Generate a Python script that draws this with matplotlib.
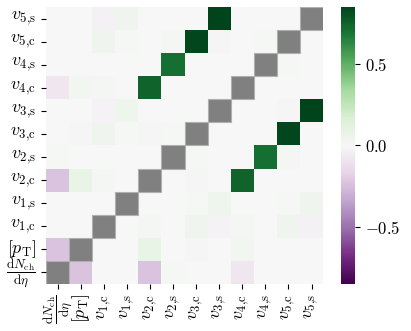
import numpy as np
import matplotlib
matplotlib.use("Agg")
import matplotlib.pyplot as plt
from matplotlib.colors import ListedColormap
from matplotlib.patches import Rectangle
import seaborn as sns

plt.rcParams["mathtext.fontset"] = "cm"
plt.rcParams["font.family"] = "serif"
plt.rcParams["font.serif"] = ["cmr10", "DejaVu Serif"]
plt.rcParams["axes.unicode_minus"] = False

labels = [r"$\dfrac{\mathrm{d}N_\mathrm{ch}}{\mathrm{d}\eta}$", r"$[p_\mathrm{T}]$",
          r"$v_{1,\!\mathrm{c}}$", r"$v_{1,\!\mathrm{s}}$",
          r"$v_{2,\!\mathrm{c}}$", r"$v_{2,\!\mathrm{s}}$",
          r"$v_{3,\!\mathrm{c}}$", r"$v_{3,\!\mathrm{s}}$",
          r"$v_{4,\!\mathrm{c}}$", r"$v_{4,\!\mathrm{s}}$",
          r"$v_{5,\!\mathrm{c}}$", r"$v_{5,\!\mathrm{s}}$"]

# upper-triangle correlations (row i, col j>i), order as in labels
row_dN = [-0.23, 0.0, 0.0, -0.23, 0.01, 0.0, 0.0, -0.08, 0.0, 0.0, 0.0]
row_pT = [0.0, 0.0, 0.08, 0.0, -0.01, 0.0, 0.03, 0.0, 0.0, 0.0]
row_v1c = [0.0, 0.02, 0.0, 0.04, -0.02, 0.02, 0.0, 0.04, -0.03]
row_v1s = [0.0, 0.0, 0.01, 0.05, 0.0, 0.0, 0.01, 0.04]
row_v2c = [0.0, -0.01, 0.0, 0.75, 0.0, 0.0, 0.0]
row_v2s = [0.01, 0.0, 0.0, 0.71, 0.02, 0.0]
row_v3c = [0.0, 0.0, 0.0, 0.84, 0.0]
row_v3s = [0.0, 0.0, -0.01, 0.85]
row_v4c = [0.0, 0.0, 0.0]
row_v4s = [0.01, 0.0]
row_v5c = [0.0]
upper_rows = [row_dN, row_pT, row_v1c, row_v1s, row_v2c, row_v2s,
              row_v3c, row_v3s, row_v4c, row_v4s, row_v5c]

n = len(labels)
corr = np.eye(n)
for i, r in enumerate(upper_rows):
    for k, v in enumerate(r):
        j = i + 1 + k
        corr[i, j] = v
        corr[j, i] = v

vmax = 0.85
fig = plt.figure(figsize=(4.11, 3.31), dpi=100)
ax = fig.add_axes([0.112, 0.142, 0.674, 0.837])
cax = fig.add_axes([0.830, 0.142, 0.034, 0.837])

diag = np.eye(n, dtype=bool)
sns.heatmap(corr, mask=diag, cmap="PRGn", vmin=-vmax, vmax=vmax, ax=ax,
            cbar_ax=cax, square=True, xticklabels=labels, yticklabels=labels)
sns.heatmap(corr, mask=~diag, cmap=ListedColormap(["#808080"]), cbar=False,
            ax=ax, square=True, xticklabels=labels, yticklabels=labels)
# light outline round the diagonal cells
for i in range(n):
    ax.add_patch(Rectangle((i, i), 1, 1, fill=False, ec="#b0b0b0", lw=0.8))
ax.invert_yaxis()
ax.tick_params(axis="x", labelrotation=90, labelsize=13)
ax.tick_params(axis="y", labelrotation=0, labelsize=13)
ax.get_xticklabels()[0].set_fontsize(9.5)
ax.get_yticklabels()[0].set_fontsize(9.5)

cax.set_yticks([-0.5, 0.0, 0.5])
cax.set_yticklabels([r"$-0.5$", r"$0.0$", r"$0.5$"], fontsize=12)

fig.savefig("out.png", dpi=100)
